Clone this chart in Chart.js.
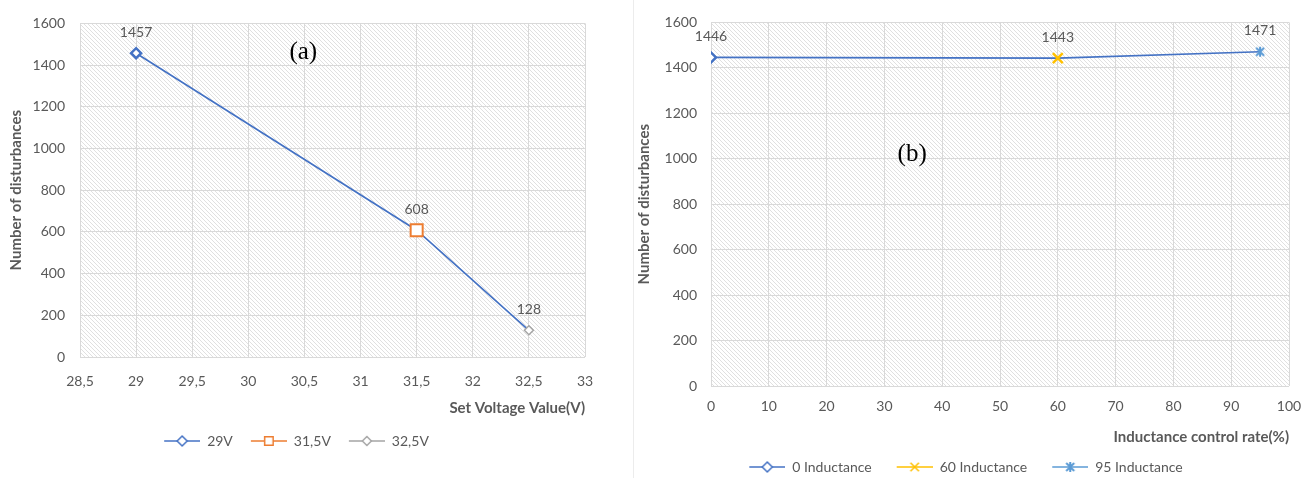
<!DOCTYPE html>
<html>
<head>
<meta charset="utf-8">
<title>Number of disturbances</title>
<script src="https://cdn.jsdelivr.net/npm/chart.js@4.4.1/dist/chart.umd.min.js"></script>
<style>
  html, body { margin: 0; padding: 0; background: #fff; }
  body { width: 1315px; height: 478px; overflow: hidden; position: relative; }
  #voltageChart { position: absolute; left: 0; top: 0; }
  #inductanceChart { position: absolute; left: 628px; top: 0; }
  #divider { position: absolute; left: 633px; top: 0; width: 1px; height: 478px; background: #ececec; }
</style>
</head>
<body>
<div id="divider"></div>
<canvas id="voltageChart" width="628" height="490"></canvas>
<canvas id="inductanceChart" width="687" height="490"></canvas>
<script>
// (a) set voltage sweep
const voltages      = [29, 31.5, 32.5];
const voltageCounts = [1457, 608, 128];
const voltageNames  = ["29V", "31,5V", "32,5V"];
const voltageRange  = [28.5, 33, 0.5];

// (b) inductance control sweep
const rates      = [0, 60, 95];
const rateCounts = [1446, 1443, 1471];
const rateNames  = ["0 Inductance", "60 Inductance", "95 Inductance"];
const rateRange  = [0, 100, 10];

const countRange = [0, 1600, 200];

const BLUE   = "#4472C4";
const ORANGE = "#ED7D31";
const GRAY   = "#A5A5A5";
const YELLOW = "#FFC000";
const SKY    = "#5B9BD5";
const TEXT   = "#595959";
const GRID   = "#d9d9d9";
const FONT   = "Lato, 'Open Sans', sans-serif";

Chart.defaults.font.family = FONT;
Chart.defaults.font.size = 14;
Chart.defaults.color = TEXT;

//========================================================================
// diagonal hatch used as the plot-area fill
const hatchPattern = (() => {
  const c = document.createElement("canvas");
  c.width = 4;
  c.height = 4;
  const g = c.getContext("2d");
  g.fillStyle = "#fff";
  g.fillRect(0, 0, 4, 4);
  g.strokeStyle = "#e0e0e0";
  g.lineWidth = 1;
  g.beginPath();
  g.moveTo(-1, -1); g.lineTo(5, 5);
  g.moveTo(-1, 3);  g.lineTo(1, 5);
  g.moveTo(3, -1);  g.lineTo(5, 1);
  g.stroke();
  return g.createPattern(c, "repeat");
})();

// X with a vertical stroke, like the office "star" marker
const starMarker = color => {
  const c = document.createElement("canvas");
  c.width = 14;
  c.height = 14;
  const g = c.getContext("2d");
  g.strokeStyle = color;
  g.lineWidth = 2;
  g.beginPath();
  g.moveTo(3, 3);  g.lineTo(11, 11);
  g.moveTo(11, 3); g.lineTo(3, 11);
  g.moveTo(7, 2);  g.lineTo(7, 12);
  g.stroke();
  return c;
};

// legend swatch: short line with the marker in the middle,
// "gap" leaves blank room on the left to spread the items out
const legendIcon = (ds, gap) => {
  const c = document.createElement("canvas");
  c.width = 36 + gap;
  c.height = 14;
  const g = c.getContext("2d");
  const mid = gap + 18;
  g.strokeStyle = ds.borderColor;
  g.lineWidth = 1.5;
  g.beginPath();
  g.moveTo(gap, 7);
  g.lineTo(gap + 36, 7);
  g.stroke();
  if (typeof ds.pointStyle === "object") {
    g.drawImage(ds.pointStyle, mid - ds.pointStyle.width / 2, 7 - ds.pointStyle.height / 2);
  } else {
    g.fillStyle = "#fff";
    Chart.helpers.drawPoint(g, {
      pointStyle: ds.pointStyle,
      radius: Math.min(ds.pointRadius, 6),
      borderWidth: ds.pointBorderWidth,
      rotation: 0
    }, mid, 7);
  }
  return c;
};

//========================================================================
const hatchPlugin = {
  id: "hatch",
  beforeDraw: chart => {
    const { ctx, chartArea: a } = chart;
    ctx.save();
    ctx.fillStyle = hatchPattern;
    ctx.fillRect(a.left, a.top, a.right - a.left, a.bottom - a.top);
    ctx.restore();
  }
};

// value printed above each marker
const valueLabelPlugin = {
  id: "valueLabels",
  afterDatasetsDraw: chart => {
    const ctx = chart.ctx;
    ctx.save();
    ctx.font = "14px " + FONT;
    ctx.fillStyle = TEXT;
    ctx.textAlign = "center";
    ctx.textBaseline = "middle";
    chart.data.datasets.forEach((ds, i) => {
      if (!ds.showValue) {
        return;
      }
      chart.getDatasetMeta(i).data.forEach((pt, j) => {
        ctx.fillText(String(ds.data[j].y), pt.x, pt.y - 21);
      });
    });
    ctx.restore();
  }
};

// "(a)" / "(b)" tag placed in data coordinates
const panelTagPlugin = {
  id: "panelTag",
  afterDraw: (chart, _args, opts) => {
    const ctx = chart.ctx;
    ctx.save();
    ctx.font = "25px 'Liberation Serif', 'DejaVu Serif', serif";
    ctx.fillStyle = "#000";
    ctx.textAlign = "center";
    ctx.textBaseline = "middle";
    ctx.fillText(opts.text, chart.scales.x.getPixelForValue(opts.x), chart.scales.y.getPixelForValue(opts.y));
    ctx.restore();
  }
};

//========================================================================
const markerSet = (xs, ys, names, styles) => names.map((name, i) => ({
  label: name,
  data: [{ x: xs[i], y: ys[i] }],
  showValue: true,
  borderColor: styles[i].color,
  backgroundColor: "#fff",
  pointStyle: styles[i].style,
  pointRadius: styles[i].radius,
  pointBorderWidth: styles[i].width,
  pointBackgroundColor: "#fff",
  pointBorderColor: styles[i].color
}));

const joinLine = (xs, ys) => ({
  label: "line",
  data: xs.map((x, i) => ({ x, y: ys[i] })),
  showLine: true,
  borderColor: BLUE,
  borderWidth: 1.6,
  pointRadius: 0
});

const buildOptions = o => ({
  responsive: false,
  animation: false,
  events: [],
  layout: { padding: o.padding },
  plugins: {
    tooltip: { enabled: false },
    legend: {
      position: "bottom",
      labels: {
        usePointStyle: true,
        pointStyleWidth: 36 + o.legendGap,
        padding: 10,
        color: TEXT,
        font: { size: 14 },
        generateLabels: chart => chart.data.datasets
          .filter(ds => ds.showValue)
          .map(ds => ({
            text: ds.label,
            pointStyle: legendIcon(ds, o.legendGap),
            fillStyle: "#fff",
            strokeStyle: ds.borderColor,
            lineWidth: 0,
            fontColor: TEXT,
            hidden: false
          }))
      }
    },
    panelTag: o.tag
  },
  scales: {
    x: {
      type: "linear",
      min: o.xRange[0],
      max: o.xRange[1],
      afterFit: s => { s.height = o.xHeight; },
      grid: { color: GRID, drawTicks: false },
      border: { display: false },
      ticks: {
        stepSize: o.xRange[2],
        padding: o.xTickPad,
        color: TEXT,
        callback: v => String(v).replace(".", ",")
      },
      title: {
        display: true,
        text: o.xTitle,
        align: "end",
        color: TEXT,
        font: { size: 15, weight: "bold" },
        padding: { top: 0, bottom: o.xTitlePad }
      }
    },
    y: {
      min: countRange[0],
      max: countRange[1],
      afterFit: s => { s.width = o.yWidth; },
      grid: { color: GRID, drawTicks: false },
      border: { display: false },
      ticks: {
        stepSize: countRange[2],
        padding: o.yTickPad,
        color: TEXT,
        callback: v => String(v)
      },
      title: {
        display: true,
        text: "Number of disturbances",
        color: TEXT,
        font: { size: 15, weight: "bold" },
        padding: { top: 7, bottom: 0 }
      }
    }
  }
});

//========================================================================
new Chart(document.getElementById("voltageChart"), {
  type: "scatter",
  data: {
    datasets: [
      ...markerSet(voltages, voltageCounts, voltageNames, [
        { color: BLUE,   style: "rectRot", radius: 5,   width: 2.5 },
        { color: ORANGE, style: "rect",    radius: 8.5, width: 2 },
        { color: GRAY,   style: "rectRot", radius: 4.5, width: 1.5 }
      ]),
      joinLine(voltages, voltageCounts)
    ]
  },
  options: buildOptions({
    padding: { top: 19, left: 0, right: 43, bottom: 32 },
    xRange: voltageRange,
    xHeight: 67,
    xTickPad: 16,
    xTitlePad: 7,
    xTitle: "Set Voltage Value(V)",
    yWidth: 80,
    yTickPad: 15,
    legendGap: 8,
    tag: { text: "(a)", x: 30.49, y: 1463 }
  }),
  plugins: [hatchPlugin, valueLabelPlugin, panelTagPlugin]
});

new Chart(document.getElementById("inductanceChart"), {
  type: "scatter",
  data: {
    datasets: [
      ...markerSet(rates, rateCounts, rateNames, [
        { color: BLUE,   style: "rectRot",        radius: 5, width: 2.5 },
        { color: YELLOW, style: "crossRot",       radius: 7, width: 2.5 },
        { color: SKY,    style: starMarker(SKY),  radius: 7, width: 2 }
      ]),
      joinLine(rates, rateCounts)
    ]
  },
  options: buildOptions({
    padding: { top: 19, left: 0, right: 26, bottom: 6 },
    xRange: rateRange,
    xHeight: 64,
    xTickPad: 12,
    xTitlePad: 4,
    xTitle: "Inductance control rate(%)",
    yWidth: 83,
    yTickPad: 14,
    legendGap: 15,
    tag: { text: "(b)", x: 34.8, y: 1020 }
  }),
  plugins: [hatchPlugin, valueLabelPlugin, panelTagPlugin]
});
</script>
</body>
</html>
